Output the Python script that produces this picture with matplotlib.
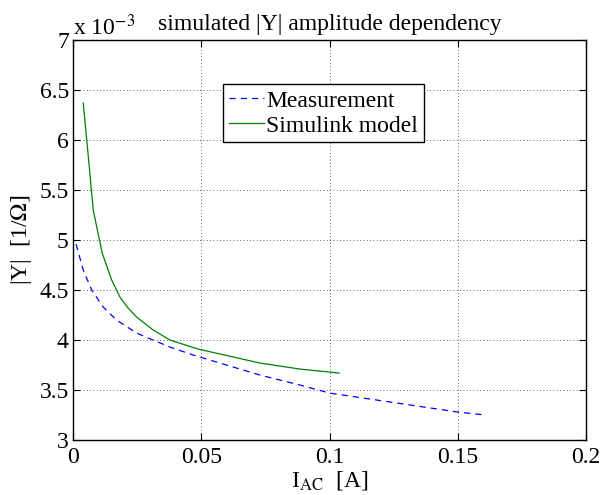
import numpy as np
import matplotlib
matplotlib.use('Agg')
import matplotlib.pyplot as plt

# |Y| values in units of 1e-3 [1/Ohm]
i_meas = [0.0012, 0.0040, 0.0073, 0.0118, 0.0170, 0.0248, 0.0313, 0.0378, 0.0469,
          0.0729, 0.0885, 0.100, 0.150, 0.161]
y_meas = [4.96, 4.70, 4.50, 4.33, 4.20, 4.07, 4.00, 3.93, 3.85,
          3.65, 3.55, 3.47, 3.28, 3.25]

i_sim = [0.0040, 0.0060, 0.0079, 0.0114, 0.0151, 0.0183, 0.0215, 0.0248, 0.0313, 0.0378,
         0.0488, 0.0729, 0.0885, 0.1037]
y_sim = [6.37, 5.83, 5.30, 4.87, 4.60, 4.43, 4.32, 4.23, 4.10, 4.00,
         3.91, 3.77, 3.71, 3.67]

plt.rcParams['font.family'] = ['Liberation Serif', 'DejaVu Serif']
plt.rcParams['mathtext.fontset'] = 'stix'
fs = 17

fig = plt.figure(figsize=(6.03, 4.95), dpi=100)
plt.subplots_adjust(left=0.121, right=0.972, top=0.919, bottom=0.111)
ax = fig.add_subplot(111)

ax.plot(i_meas, y_meas, '--', color='#0000ff', lw=0.9, dashes=(5, 4), label='Measurement')
ax.plot(i_sim, y_sim, '-', color='#007f00', lw=0.9, label='Simulink model')

ax.set_xlim(0, 0.2)
ax.set_ylim(3, 7)
ax.set_xticks([0, 0.05, 0.1, 0.15, 0.2])
ax.set_xticklabels(['0', '0.05', '0.1', '0.15', '0.2'])
ax.set_yticks(np.arange(3, 7.01, 0.5))
ax.set_yticklabels(['3', '3.5', '4', '4.5', '5', '5.5', '6', '6.5', '7'])
ax.tick_params(direction='in', top=True, right=True, labelsize=fs, length=5, width=0.8)
ax.tick_params(axis='x', pad=5)
ax.tick_params(axis='y', pad=3)
ax.grid(True, linestyle=(0, (1, 3)), color='#333333', lw=0.6)
for s in ax.spines.values():
    s.set_linewidth(1.0)

ax.text(0.0, 1.0, r'x 10$^{-3}$', transform=ax.transAxes, fontsize=fs,
        ha='left', va='bottom')
ax.set_title('simulated |Y| amplitude dependency', fontsize=fs, pad=7)
ax.set_xlabel(r'I$_{\mathrm{AC}}$  [A]', fontsize=fs, labelpad=1)
ax.set_ylabel(r'|Y|  [1/$\Omega$]', fontsize=fs, labelpad=4)

leg = ax.legend(loc='upper left', bbox_to_anchor=(0.292, 0.89), borderaxespad=0,
                fontsize=fs, fancybox=False, edgecolor='black', framealpha=1,
                handlelength=1.5, handletextpad=0.1, borderpad=0.25, labelspacing=0.15)
leg.get_frame().set_linewidth(1.0)

fig.savefig('out.png', dpi=100)
